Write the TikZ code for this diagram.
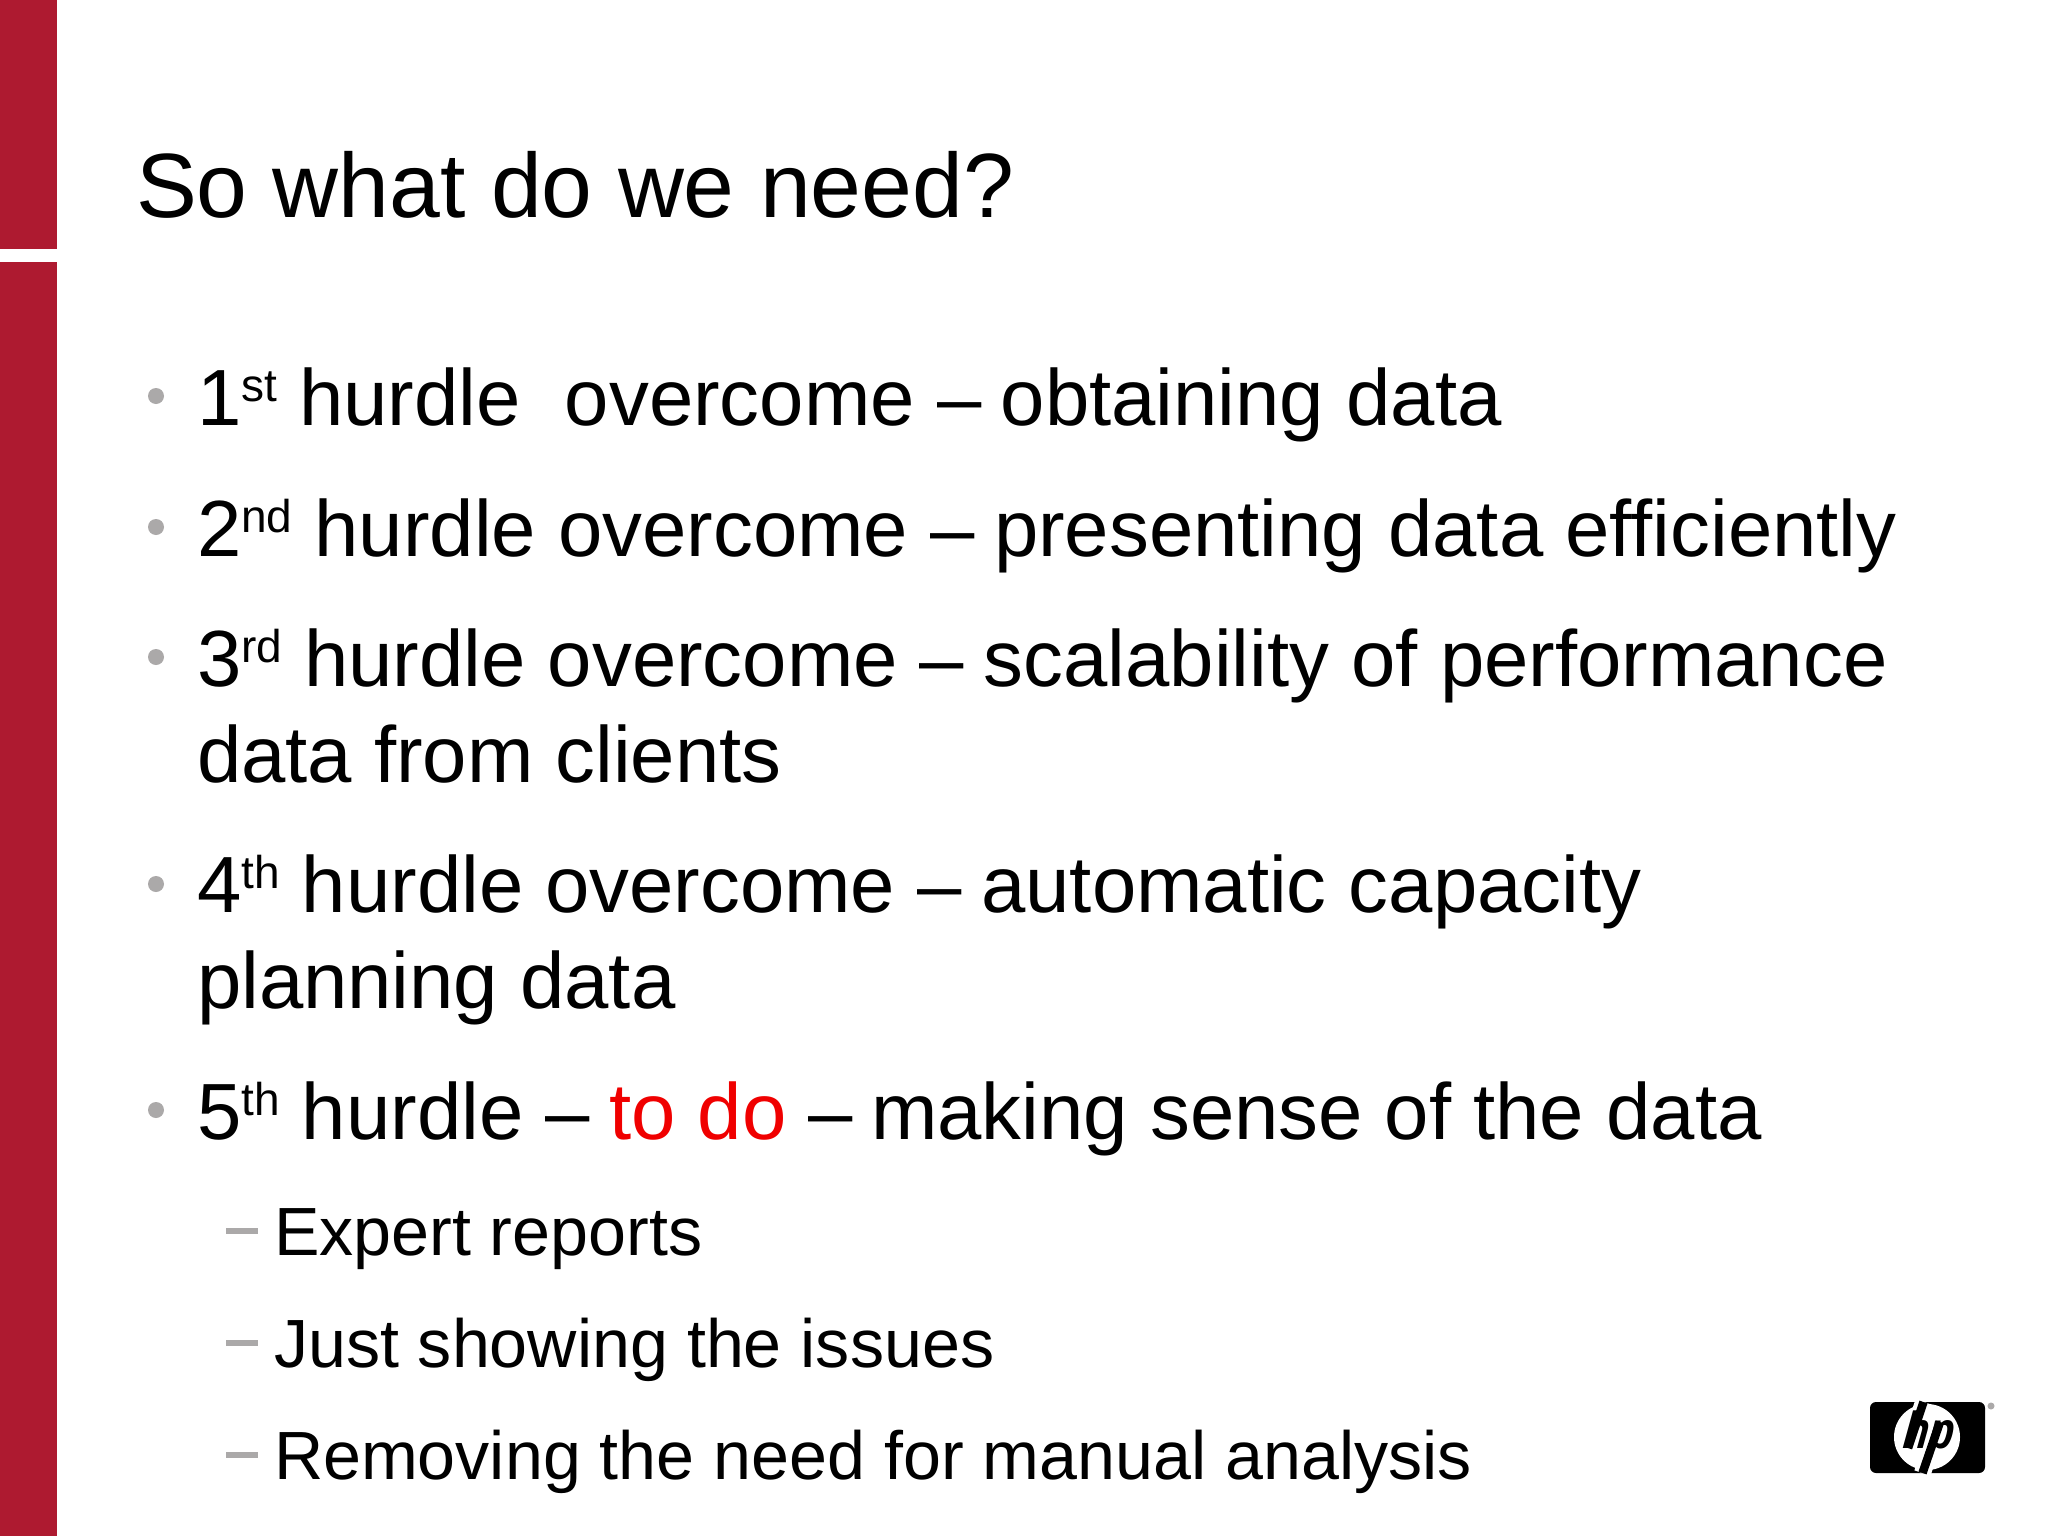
\documentclass[tikz,border=0pt]{standalone}
\usepackage{fontspec}
\setmainfont{Liberation Sans}
\newcommand{\sups}[1]{\raisebox{0.3em}{\fontsize{46}{46}\selectfont #1}}
\newcommand{\dsh}{–\kern-2.6pt}
\definecolor{barred}{HTML}{AE1A30}
\definecolor{bulgray}{HTML}{ABA9A9}
\definecolor{todored}{HTML}{F00000}
\tikzset{
  x=1pt,y=-1pt,
  txt/.style={anchor=base west,inner sep=0pt,outer sep=0pt,text=black},
  title/.style={txt,font=\fontsize{91.3}{91.3}\selectfont},
  body/.style={txt,font=\fontsize{79.7}{79.7}\selectfont},
  subtext/.style={txt,font=\fontsize{68.2}{68.2}\selectfont},
  bullet/.style={circle,fill=bulgray,draw=none,minimum size=16pt,inner sep=0pt},
  subdash/.style={fill=bulgray,draw=none,minimum width=32pt,minimum height=6pt,inner sep=0pt},
  bar/.style={fill=barred,draw=none},
  logostem/.style={black,line width=8.5pt,line cap=butt},
  logogap/.style={white,line width=17pt,line cap=butt}
}
\begin{document}
\begin{tikzpicture}
\useasboundingbox (0,0) rectangle (2048,1536);
\fill[white] (0,0) rectangle (2048,1536);
\fill[bar] (0,0) rectangle (57,249);
\fill[bar] (0,262) rectangle (57,1536);
\node[title] (title) at (136,217) {So what do we need?};
\node[bullet] (b1) at (156,396) {};
\node[bullet] (b2) at (156,527) {};
\node[bullet] (b3) at (156,657) {};
\node[bullet] (b4) at (156,884) {};
\node[bullet] (b5) at (156,1110) {};
\node[body] (l1) at (197,425) {1\sups{st} hurdle\ \ overcome \dsh{} obtaining data};
\node[body] (l2) at (197,556) {2\sups{nd} hurdle overcome \dsh{} presenting data efficiently};
\node[body] (l3) at (197,686) {3\sups{rd} hurdle overcome \dsh{} scalability of performance};
\node[body] (l3b) at (197,782) {data from clients};
\node[body] (l4) at (197,912) {4\sups{th} hurdle overcome \dsh{} automatic capacity};
\node[body] (l4b) at (197,1008) {planning data};
\node[body] (l5) at (197,1139) {5\sups{th} hurdle \dsh{} \textcolor{todored}{to do} \dsh{}\kern-1.5pt{} making sense of the data};
\node[subdash] (d1) at (242,1231) {};
\node[subdash] (d2) at (242,1343) {};
\node[subdash] (d3) at (242,1455) {};
\node[subtext] (s1) at (274,1255) {Expert reports};
\node[subtext] (s2) at (274,1367) {Just showing the issues};
\node[subtext] (s3) at (274,1479) {Removing the need for manual analysis};
% logo
\fill[black,rounded corners=6pt] (1870,1402) rectangle (1985,1473);
\fill[white] (1927,1437) circle (33);
\draw[logogap] (1923.5,1402) -- (1916,1425);
\draw[logostem] (1923.5,1402) -- (1908,1448);
\draw[logogap] (1922.5,1473) -- (1930,1450);
\draw[logostem] (1922.5,1473) -- (1940,1422);
\node[txt,font=\fontsize{52}{52}\bfseries\itshape\selectfont,xslant=0.12,xscale=0.8,transform shape] (logo) at (1902,1448) {hp};
\fill[bulgray] (1991,1406) circle (3.5);
\end{tikzpicture}
\end{document}
